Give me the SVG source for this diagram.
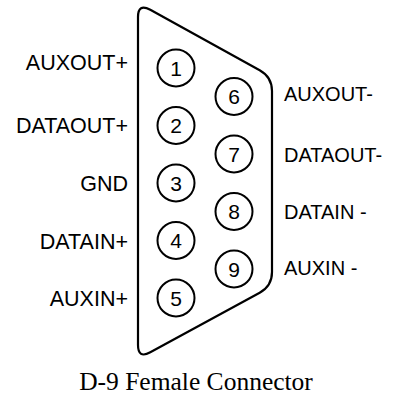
<svg xmlns="http://www.w3.org/2000/svg" width="393" height="406" viewBox="0 0 393 406">
<style>
.lbl{font-family:"Liberation Sans",Arial,sans-serif;font-size:20px;fill:#000}
.l{text-anchor:end;font-size:21.5px}
.pin circle{fill:#fff;stroke:#000;stroke-width:2}
.pin text{font-family:"Liberation Sans",Arial,sans-serif;font-size:21px;text-anchor:middle;fill:#000}
.cap{font-family:"Liberation Serif","Times New Roman",serif;font-size:25.5px;text-anchor:middle;fill:#000}
</style>
<rect width="393" height="406" fill="#fff"/>
<g id="shell">
<path d="M138,17 Q138,3 150.3,9.8 L259.7,70.2 Q272,77 272,91 L272,272 Q272,286 259.7,292.7 L150.3,352.3 Q138,359 138,345 Z" fill="none" stroke="#000" stroke-width="2.2"/>
</g>
<g id="connectors"></g>
<g id="pin1" class="pin"><circle cx="176" cy="68" r="18.5"/><text x="176" y="75.5">1</text></g>
<g id="pin2" class="pin"><circle cx="176" cy="125.5" r="18.5"/><text x="176" y="133">2</text></g>
<g id="pin3" class="pin"><circle cx="176" cy="183" r="18.5"/><text x="176" y="190.5">3</text></g>
<g id="pin4" class="pin"><circle cx="176" cy="240.5" r="18.5"/><text x="176" y="248">4</text></g>
<g id="pin5" class="pin"><circle cx="176" cy="298" r="18.5"/><text x="176" y="305.5">5</text></g>
<g id="pin6" class="pin"><circle cx="234" cy="96.5" r="18.5"/><text x="234" y="104">6</text></g>
<g id="pin7" class="pin"><circle cx="234" cy="154" r="18.5"/><text x="234" y="161.5">7</text></g>
<g id="pin8" class="pin"><circle cx="234" cy="211.5" r="18.5"/><text x="234" y="219">8</text></g>
<g id="pin9" class="pin"><circle cx="234" cy="269" r="18.5"/><text x="234" y="276.5">9</text></g>
<g id="labels">
<text class="lbl l" x="128" y="70">AUXOUT+</text>
<text class="lbl l" x="128" y="132.5">DATAOUT+</text>
<text class="lbl l" x="128" y="190.5">GND</text>
<text class="lbl l" x="128" y="248.5">DATAIN+</text>
<text class="lbl l" x="128" y="305.5">AUXIN+</text>
<text class="lbl" x="284" y="100.5">AUXOUT-</text>
<text class="lbl" x="284" y="162">DATAOUT-</text>
<text class="lbl" x="284" y="219">DATAIN -</text>
<text class="lbl" x="284" y="275">AUXIN -</text>
</g>
<text id="caption" class="cap" x="196" y="390">D-9 Female Connector</text>
</svg>
